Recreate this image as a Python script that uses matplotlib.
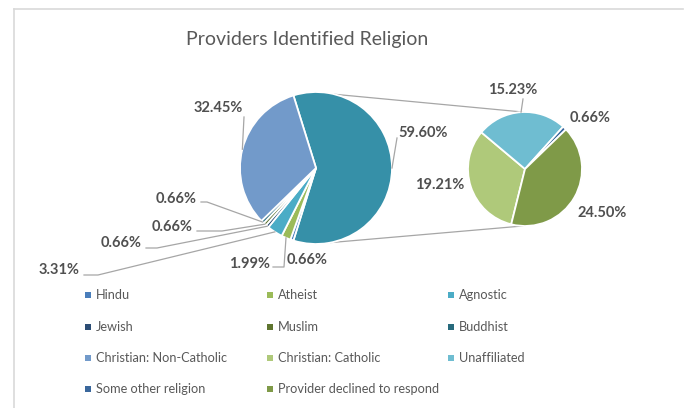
import numpy as np
import matplotlib.pyplot as plt
from matplotlib.patches import Rectangle

plt.rcParams['font.family'] = ['Lato', 'DejaVu Sans']

W, H = 689, 408

# Data: share of providers (%)
main_labels = ['Hindu', 'Atheist', 'Agnostic', 'Jewish', 'Muslim', 'Buddhist',
               'Christian: Non-Catholic']
main_values = [0.66, 1.99, 3.31, 0.66, 0.66, 0.66, 32.45]
second_labels = ['Christian: Catholic', 'Unaffiliated', 'Some other religion',
                 'Provider declined to respond']
second_values = [19.21, 15.23, 0.66, 24.50]

colors = {
    'Hindu': '#4A7EBB',
    'Atheist': '#9BBB59',
    'Agnostic': '#4BACC6',
    'Jewish': '#2C4D75',
    'Muslim': '#5F7530',
    'Buddhist': '#276A7C',
    'Christian: Non-Catholic': '#729ACA',
    'Christian: Catholic': '#AFC97A',
    'Unaffiliated': '#6FBDD1',
    'Some other religion': '#3A679C',
    'Provider declined to respond': '#7F9A48',
    'Other': '#3690A8',
}

TXT = '#505050'
LINE = '#A6A6A6'


def P(x, y):
    # image pixel coords -> data coords (y up)
    return x, H - y


def edge(c, r, ang):
    a = np.deg2rad(ang)
    return c[0] + r * np.cos(a), c[1] + r * np.sin(a)


fig = plt.figure(figsize=(W / 100, H / 100), dpi=100)
ax = fig.add_axes([0, 0, 1, 1])

main_c, main_r = P(316, 168), 76
sec_c, sec_r = P(525, 169), 57

other = sum(second_values)
vals1 = [other] + main_values
cols1 = [colors['Other']] + [colors[k] for k in main_labels]
wp = dict(edgecolor='white', linewidth=1.3)

w1, _ = ax.pie(vals1, colors=cols1, startangle=other / 100 * 180, counterclock=False,
               center=main_c, radius=main_r, wedgeprops=wp, normalize=True)
w2, _ = ax.pie(second_values, colors=[colors[k] for k in second_labels],
               startangle=-104, counterclock=False, center=sec_c, radius=sec_r,
               wedgeprops=wp, normalize=True)

# connector lines between the two pies
for a1, a2 in [(76, 92), (-79, -92)]:
    p1 = edge(main_c, main_r, a1)
    p2 = edge(sec_c, sec_r, a2)
    ax.plot([p1[0], p2[0]], [p1[1], p2[1]], color=LINE, lw=0.9, zorder=0)

# data labels: (text pos, ha, leader points)
main_lbl = [
    ((398, 133), 'left', [(397, 138)]),
    ((287, 260), 'left', None),
    ((270, 264), 'right', [(273, 267), (284, 267)]),
    ((80, 270), 'right', [(84, 275), (98, 275)]),
    ((142, 243), 'right', [(146, 248), (157, 248)]),
    ((193, 227), 'right', [(197, 231), (222, 231)]),
    ((197, 199), 'right', [(201, 202), (207, 202)]),
    ((218, 108), 'center', [(244, 117)]),
]
sec_lbl = [
    ((440, 185), 'center', None),
    ((513, 90), 'center', [(523, 99)]),
    ((590, 118), 'center', None),
    ((602, 213), 'center', None),
]


def put_labels(wedges, values, specs, c, r):
    for w, v, (pos, ha, lead) in zip(wedges, values, specs):
        x, y = P(*pos)
        ax.text(x, y, f'{v:.2f}%', ha=ha, va='center', fontsize=10.5,
                fontweight='bold', color=TXT)
        if lead:
            mid = (w.theta1 + w.theta2) / 2
            pts = [P(*p) for p in lead] + [edge(c, r, mid)]
            ax.plot([p[0] for p in pts], [p[1] for p in pts], color=LINE, lw=0.9)


put_labels(w1, vals1, main_lbl, main_c, main_r)
put_labels(w2, second_values, sec_lbl, sec_c, sec_r)

ax.text(*P(307, 40), 'Providers Identified Religion', ha='center', va='center',
        fontsize=14, fontweight='normal', color='#595959')

# legend, row-wise like Excel
legend_order = main_labels + second_labels
col_x = [88, 270, 451]
row_y = [295, 327, 358, 389]
for i, lab in enumerate(legend_order):
    x, y = P(col_x[i % 3], row_y[i // 3])
    ax.add_patch(Rectangle((x - 3, y - 3), 6, 6, color=colors[lab], lw=0))
    ax.text(x + 8, y, lab, ha='left', va='center', fontsize=9.2, color='#595959')

# chart area border (left and top edges visible)
ax.plot([13.5, 13.5], [0, H - 9], color='#D9D9D9', lw=1.2)
ax.plot([13.5, 683], [H - 9, H - 9], color='#D9D9D9', lw=1.2)

ax.set_xlim(0, W)
ax.set_ylim(0, H)
ax.set_aspect('equal')
ax.axis('off')

fig.savefig('out.png', dpi=100)
